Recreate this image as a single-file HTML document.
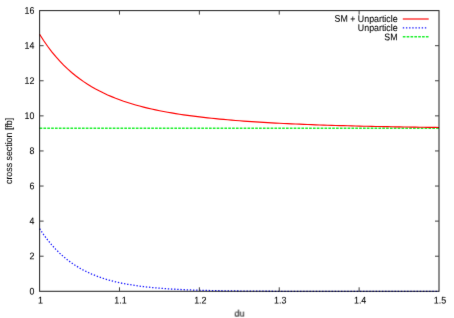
<!DOCTYPE html>
<html><head><meta charset="utf-8"><style>
html,body{margin:0;padding:0;background:#fff}
svg{display:block}
text{font-family:"Liberation Sans",sans-serif;font-size:9.6px;fill:#000;stroke:#000;stroke-width:0.07px}
</style></head><body>
<svg width="454" height="318" viewBox="0 0 454 318">
<defs><filter id="bl" color-interpolation-filters="sRGB" x="0" y="0" width="454" height="318" filterUnits="userSpaceOnUse"><feConvolveMatrix order="3" kernelMatrix="0.0049 0.0602 0.0049 0.0602 0.7396 0.0602 0.0049 0.0602 0.0049" divisor="1" edgeMode="duplicate" preserveAlpha="true"/></filter></defs>
<rect width="454" height="318" fill="#fff"/>
<g filter="url(#bl)">
<rect width="454" height="318" fill="#fff"/>
<path d="M39.6,128.2 H439.0" fill="none" stroke="#1cf02c" stroke-width="1.5" stroke-dasharray="2.65 1.2"/>
<path d="M39.6,228.69 L43.6,234.58 L47.6,239.92 L51.6,244.76 L55.6,249.14 L59.6,253.11 L63.6,256.71 L67.6,259.97 L71.6,262.93 L75.6,265.61 L79.6,268.04 L83.6,270.24 L87.6,272.23 L91.6,274.03 L95.6,275.67 L99.6,277.15 L103.6,278.50 L107.6,279.71 L111.6,280.82 L115.6,281.82 L119.6,282.72 L123.6,283.55 L127.6,284.29 L131.6,284.96 L135.6,285.57 L139.6,286.13 L143.6,286.63 L147.6,287.08 L151.6,287.50 L155.6,287.87 L159.6,288.21 L163.6,288.51 L167.6,288.79 L171.6,289.04 L175.6,289.27 L179.6,289.48 L183.6,289.67 L187.6,289.84 L191.6,289.99 L195.6,290.13 L199.6,290.26 L203.6,290.37 L207.6,290.47 L211.6,290.57 L215.6,290.65 L219.6,290.73 L223.6,290.80 L227.6,290.86 L231.6,290.92 L235.6,290.97 L239.6,291.02 L243.6,291.06 L247.6,291.10 L251.6,291.14 L255.6,291.17 L259.6,291.20 L263.6,291.22 L267.6,291.25 L271.6,291.27 L275.6,291.29 L279.6,291.31 L283.6,291.32 L287.6,291.34 L291.6,291.35 L295.6,291.36 L299.6,291.37 L303.6,291.38 L307.6,291.39 L311.6,291.40 L315.6,291.40 L319.6,291.41 L323.6,291.42 L327.6,291.42 L331.6,291.43 L335.6,291.43 L339.6,291.44 L343.6,291.44 L347.6,291.44 L351.6,291.45 L355.6,291.45 L359.6,291.45 L363.6,291.45 L367.6,291.46 L371.6,291.46 L375.6,291.46 L379.6,291.46 L383.6,291.46 L387.6,291.46 L391.6,291.46 L395.6,291.47 L399.6,291.47 L403.6,291.47 L407.6,291.47 L411.6,291.47 L415.6,291.47 L419.6,291.47 L423.6,291.47 L427.6,291.47 L431.6,291.47 L435.6,291.47 L439.0,291.47" fill="none" stroke="#1818ff" stroke-width="1.3" stroke-dasharray="1.4 1.75"/>
<path d="M39.6,34.29 L43.6,40.52 L47.6,46.25 L51.6,51.53 L55.6,56.40 L59.6,60.89 L63.6,65.05 L67.6,68.89 L71.6,72.44 L75.6,75.73 L79.6,78.79 L83.6,81.62 L87.6,84.25 L91.6,86.70 L95.6,88.98 L99.6,91.10 L103.6,93.08 L107.6,94.93 L111.6,96.65 L115.6,98.27 L119.6,99.78 L123.6,101.20 L127.6,102.52 L131.6,103.77 L135.6,104.95 L139.6,106.05 L143.6,107.09 L147.6,108.07 L151.6,108.99 L155.6,109.87 L159.6,110.69 L163.6,111.47 L167.6,112.21 L171.6,112.91 L175.6,113.58 L179.6,114.21 L183.6,114.81 L187.6,115.38 L191.6,115.92 L195.6,116.44 L199.6,116.93 L203.6,117.40 L207.6,117.85 L211.6,118.27 L215.6,118.68 L219.6,119.07 L223.6,119.44 L227.6,119.80 L231.6,120.14 L235.6,120.46 L239.6,120.77 L243.6,121.07 L247.6,121.36 L251.6,121.64 L255.6,121.90 L259.6,122.15 L263.6,122.40 L267.6,122.63 L271.6,122.85 L275.6,123.07 L279.6,123.27 L283.6,123.47 L287.6,123.66 L291.6,123.85 L295.6,124.02 L299.6,124.19 L303.6,124.36 L307.6,124.52 L311.6,124.67 L315.6,124.81 L319.6,124.95 L323.6,125.09 L327.6,125.22 L331.6,125.35 L335.6,125.47 L339.6,125.58 L343.6,125.69 L347.6,125.80 L351.6,125.91 L355.6,126.01 L359.6,126.10 L363.6,126.20 L367.6,126.29 L371.6,126.38 L375.6,126.46 L379.6,126.54 L383.6,126.62 L387.6,126.69 L391.6,126.76 L395.6,126.83 L399.6,126.90 L403.6,126.97 L407.6,127.03 L411.6,127.09 L415.6,127.15 L419.6,127.20 L423.6,127.26 L427.6,127.31 L431.6,127.36 L435.6,127.41 L439.0,127.45" fill="none" stroke="#ff0000" stroke-width="1.15"/>
<rect x="39.6" y="10.6" width="399.4" height="280.7" fill="none" stroke="#000" stroke-opacity="0.85" stroke-width="1.05"/>
<path d="M39.6,256.21 h4 M439.0,256.21 h-4 M39.6,221.12 h4 M439.0,221.12 h-4 M39.6,186.04 h4 M439.0,186.04 h-4 M39.6,150.95 h4 M439.0,150.95 h-4 M39.6,115.86 h4 M439.0,115.86 h-4 M39.6,80.78 h4 M439.0,80.78 h-4 M39.6,45.69 h4 M439.0,45.69 h-4 M119.48,291.3 v-4 M119.48,10.6 v4 M199.36,291.3 v-4 M199.36,10.6 v4 M279.24,291.3 v-4 M279.24,10.6 v4 M359.12,291.3 v-4 M359.12,10.6 v4" fill="none" stroke="#404040" stroke-width="1"/>
<g><text transform="translate(34.3,294.4) rotate(0.03) scale(0.92,1.0)" text-anchor="end">0</text><text transform="translate(34.3,259.31) rotate(0.03) scale(0.92,1.0)" text-anchor="end">2</text><text transform="translate(34.3,224.22) rotate(0.03) scale(0.92,1.0)" text-anchor="end">4</text><text transform="translate(34.3,189.14) rotate(0.03) scale(0.92,1.0)" text-anchor="end">6</text><text transform="translate(34.3,154.05) rotate(0.03) scale(0.92,1.0)" text-anchor="end">8</text><text transform="translate(34.3,118.96) rotate(0.03) scale(0.92,1.0)" text-anchor="end">10</text><text transform="translate(34.3,83.88) rotate(0.03) scale(0.92,1.0)" text-anchor="end">12</text><text transform="translate(34.3,48.79) rotate(0.03) scale(0.92,1.0)" text-anchor="end">14</text><text transform="translate(34.3,13.7) rotate(0.03) scale(0.92,1.0)" text-anchor="end">16</text><text transform="translate(40.6,303.6) rotate(0.03) scale(0.93,1.0)" text-anchor="middle">1</text><text transform="translate(120.48,303.6) rotate(0.03) scale(0.93,1.0)" text-anchor="middle">1.1</text><text transform="translate(200.36,303.6) rotate(0.03) scale(0.93,1.0)" text-anchor="middle">1.2</text><text transform="translate(280.24,303.6) rotate(0.03) scale(0.93,1.0)" text-anchor="middle">1.3</text><text transform="translate(360.12,303.6) rotate(0.03) scale(0.93,1.0)" text-anchor="middle">1.4</text><text transform="translate(440.0,303.6) rotate(0.03) scale(0.93,1.0)" text-anchor="middle">1.5</text>
<text transform="translate(239.4,316.6) rotate(0.03) scale(0.95,1.0)" text-anchor="middle">du</text>
<text transform="translate(12.0,150.9) rotate(-89.97) scale(0.92,1.0)" text-anchor="middle">cross section [fb]</text>
<text transform="translate(397.6,21.9) rotate(0.03) scale(0.92,1.0)" text-anchor="end">SM + Unparticle</text>
<text transform="translate(397.6,31.1) rotate(0.03) scale(0.92,1.0)" text-anchor="end">Unparticle</text>
<text transform="translate(397.6,40.3) rotate(0.03) scale(0.92,1.0)" text-anchor="end">SM</text>
</g>
<path d="M402.8,19.0 H428.7" fill="none" stroke="#ff0000" stroke-width="1.15"/>
<path d="M402.8,27.9 H428" fill="none" stroke="#1818ff" stroke-width="1.3" stroke-dasharray="1.4 1.75"/>
<path d="M402.8,36.7 H428.7" fill="none" stroke="#1cf02c" stroke-width="1.5" stroke-dasharray="2.65 1.2"/>
</g>
</svg>
</body></html>
